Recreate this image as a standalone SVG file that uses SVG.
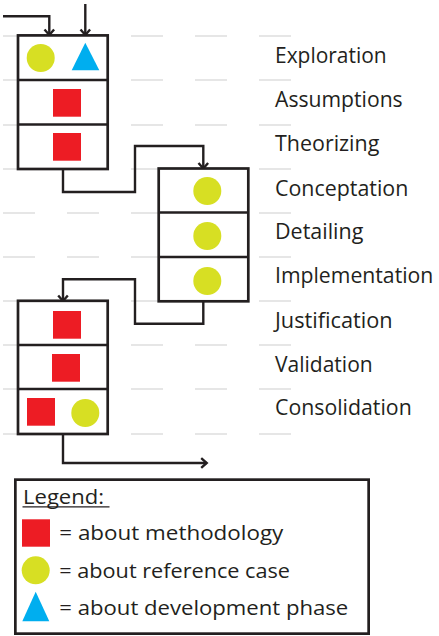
<svg xmlns="http://www.w3.org/2000/svg" width="439" height="636" viewBox="0 0 439 636">
  <style>
    .grid { stroke: #e6e6e6; stroke-width: 2; stroke-dasharray: 32 32; fill: none; }
    .box { fill: #ffffff; stroke: #231f20; stroke-width: 2.7; }
    .div { stroke: #231f20; stroke-width: 2.7; }
    .conn { fill: none; stroke: #231f20; stroke-width: 2.4; stroke-linejoin: miter; }
    .m { fill: #ed1c24; }
    .r { fill: #d7df23; }
    .d { fill: #00aeef; }
    .lbl { font-family: "Open Sans", "Noto Sans", sans-serif; font-size: 21px; fill: #231f20; }
    .leg { font-family: "Open Sans", "Noto Sans", sans-serif; font-size: 20px; fill: #231f20; }
  </style>
  <defs>
    <marker id="chev" markerUnits="userSpaceOnUse" viewBox="-8 -7 10 14" markerWidth="10" markerHeight="14" refX="0" refY="0" orient="auto" overflow="visible">
      <path d="M-5.5,-4.8 L0,0 L-5.5,4.8" fill="none" stroke="#231f20" stroke-width="2.4"/>
    </marker>
  </defs>

  <rect width="439" height="636" fill="#ffffff"/>

  <!-- phase guide lines -->
  <g id="guides">
    <line class="grid" x1="3" y1="36" x2="291" y2="36"/>
    <line class="grid" x1="3" y1="80" x2="291" y2="80"/>
    <line class="grid" x1="3" y1="125" x2="291" y2="125"/>
    <line class="grid" x1="3" y1="169" x2="291" y2="169"/>
    <line class="grid" x1="3" y1="213" x2="291" y2="213"/>
    <line class="grid" x1="3" y1="257" x2="291" y2="257"/>
    <line class="grid" x1="3" y1="301" x2="291" y2="301"/>
    <line class="grid" x1="3" y1="345" x2="291" y2="345"/>
    <line class="grid" x1="3" y1="389" x2="291" y2="389"/>
    <line class="grid" x1="3" y1="434" x2="291" y2="434"/>
  </g>

  <!-- connectors -->
  <g id="connectors">
    <polyline class="conn" points="3,16.3 49.3,16.3 49.3,35" marker-end="url(#chev)"/>
    <polyline class="conn" points="85.3,4 85.3,35" marker-end="url(#chev)"/>
    <polyline class="conn" points="63,169 63,192 135,192 135,146 203.3,146 203.3,168.5" marker-end="url(#chev)"/>
    <polyline class="conn" points="203.3,301 203.3,323.7 135,323.7 135,279.3 63,279.3 63,301" marker-end="url(#chev)"/>
    <polyline class="conn" points="63,434 63,463 206.7,463" marker-end="url(#chev)"/>
  </g>

  <!-- block 1: Exploration, Assumptions, Theorizing -->
  <g id="block1">
    <rect class="box" x="18" y="35.4" width="89.7" height="133.6"/>
    <line class="div" x1="18" y1="80" x2="107.7" y2="80"/>
    <line class="div" x1="18" y1="124.5" x2="107.7" y2="124.5"/>
    <circle class="r" cx="40.7" cy="58" r="14"/>
    <polygon class="d" points="85.3,42.7 99.3,70.3 71.7,70.3"/>
    <rect class="m" x="53" y="89" width="28" height="27.7"/>
    <rect class="m" x="53" y="133" width="28" height="27.7"/>
  </g>

  <!-- block 2: Conceptation, Detailing, Implementation -->
  <g id="block2">
    <rect class="box" x="158.7" y="168.5" width="89.6" height="132.8"/>
    <line class="div" x1="158.7" y1="212.5" x2="248.3" y2="212.5"/>
    <line class="div" x1="158.7" y1="257" x2="248.3" y2="257"/>
    <circle class="r" cx="207.3" cy="191" r="14"/>
    <circle class="r" cx="207.3" cy="236" r="14"/>
    <circle class="r" cx="207.3" cy="281" r="14"/>
  </g>

  <!-- block 3: Justification, Validation, Consolidation -->
  <g id="block3">
    <rect class="box" x="18" y="300.8" width="89.7" height="133.2"/>
    <line class="div" x1="18" y1="345" x2="107.7" y2="345"/>
    <line class="div" x1="18" y1="389" x2="107.7" y2="389"/>
    <rect class="m" x="53" y="311" width="28" height="27.7"/>
    <rect class="m" x="52" y="354" width="28" height="27.7"/>
    <rect class="m" x="27" y="398" width="28" height="27.7"/>
    <circle class="r" cx="85.3" cy="413" r="14"/>
  </g>

  <!-- phase labels -->
  <g id="phases">
    <text class="lbl" x="275" y="63.3" textLength="111.7" lengthAdjust="spacingAndGlyphs">Exploration</text>
    <text class="lbl" x="275" y="107.3" textLength="127.7" lengthAdjust="spacingAndGlyphs">Assumptions</text>
    <text class="lbl" x="275" y="151.2" textLength="104.3" lengthAdjust="spacingAndGlyphs">Theorizing</text>
    <text class="lbl" x="275" y="195.5" textLength="133.3" lengthAdjust="spacingAndGlyphs">Conceptation</text>
    <text class="lbl" x="275" y="239.4" textLength="88.3" lengthAdjust="spacingAndGlyphs">Detailing</text>
    <text class="lbl" x="275" y="283.3" textLength="158.3" lengthAdjust="spacingAndGlyphs">Implementation</text>
    <text class="lbl" x="275" y="327.6" textLength="117.7" lengthAdjust="spacingAndGlyphs">Justification</text>
    <text class="lbl" x="275" y="371.6" textLength="97.7" lengthAdjust="spacingAndGlyphs">Validation</text>
    <text class="lbl" x="275" y="415" textLength="136.7" lengthAdjust="spacingAndGlyphs">Consolidation</text>
  </g>

  <!-- legend -->
  <g id="legend">
    <rect x="15.35" y="479.65" width="353.3" height="154" fill="#ffffff" stroke="#231f20" stroke-width="2.7"/>
    <text class="leg" x="23" y="504" textLength="81" lengthAdjust="spacingAndGlyphs">Legend:</text>
    <line x1="22.5" y1="506.9" x2="109.5" y2="506.9" stroke="#231f20" stroke-width="1.3"/>
    <rect class="m" x="22" y="519.3" width="28" height="27.4"/>
    <text class="leg" x="59.3" y="540" textLength="224" lengthAdjust="spacingAndGlyphs">= about methodology</text>
    <circle class="r" cx="35.7" cy="570.3" r="14"/>
    <text class="leg" x="59.3" y="578" textLength="230.7" lengthAdjust="spacingAndGlyphs">= about reference case</text>
    <polygon class="d" points="35.7,591.7 49.3,621.3 22.3,621.3"/>
    <text class="leg" x="59.3" y="614.7" textLength="289" lengthAdjust="spacingAndGlyphs">= about development phase</text>
  </g>
</svg>
